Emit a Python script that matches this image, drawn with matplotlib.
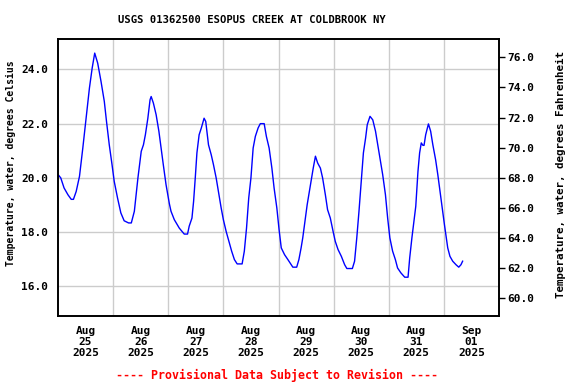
import matplotlib
matplotlib.use("Agg")
import matplotlib.pyplot as plt
import numpy as np

# days since 2025-08-25 00:00 and water temperature (deg C)
days = [0.01, 0.05, 0.11, 0.18, 0.24, 0.28, 0.33, 0.39, 0.45, 0.51, 0.57, 0.62, 0.666,
        0.72, 0.78, 0.84, 0.88, 0.93, 0.98, 1.02, 1.08, 1.14, 1.20, 1.28, 1.33, 1.385,
        1.45, 1.51, 1.55, 1.585, 1.63, 1.67, 1.69, 1.73, 1.78, 1.83, 1.87, 1.91, 1.96,
        2.02, 2.05, 2.11, 2.20, 2.29, 2.35, 2.38, 2.43, 2.46, 2.49, 2.52, 2.56, 2.60,
        2.65, 2.68, 2.73, 2.78, 2.82, 2.87, 2.92, 2.96, 3.00, 3.05, 3.10, 3.15, 3.20,
        3.25, 3.34, 3.38, 3.42, 3.46, 3.50, 3.54, 3.58, 3.63, 3.67, 3.74, 3.78, 3.83,
        3.88, 3.92, 3.97, 4.01, 4.05, 4.11, 4.17, 4.23, 4.26, 4.33, 4.37, 4.41, 4.44,
        4.48, 4.52, 4.56, 4.60, 4.63, 4.67, 4.71, 4.76, 4.80, 4.85, 4.89, 4.94, 4.99,
        5.03, 5.08, 5.14, 5.20, 5.24, 5.34, 5.38, 5.42, 5.46, 5.50, 5.54, 5.58, 5.61,
        5.66, 5.71, 5.76, 5.80, 5.84, 5.89, 5.94, 5.98, 6.02, 6.07, 6.12, 6.16, 6.22,
        6.29, 6.35, 6.38, 6.42, 6.46, 6.49, 6.51, 6.53, 6.56, 6.59, 6.62, 6.64, 6.67,
        6.70, 6.72, 6.76, 6.80, 6.85, 6.89, 6.93, 6.97, 7.01, 7.04, 7.07, 7.11, 7.16,
        7.22, 7.27, 7.31, 7.34]
temp_c = [20.10, 20.0, 19.63, 19.38, 19.21, 19.21, 19.5, 20.06, 21.1, 22.2, 23.31, 24.05, 24.6,
          24.23, 23.56, 22.82, 22.08, 21.22, 20.49, 19.87, 19.26, 18.71, 18.42, 18.34, 18.34, 18.77,
          20.0, 20.98, 21.22, 21.59, 22.2, 22.88, 23.0, 22.76, 22.33, 21.72, 21.1, 20.49, 19.75,
          19.05, 18.77, 18.46, 18.15, 17.93, 17.93, 18.22, 18.52, 19.14, 20.0, 20.92, 21.59, 21.84,
          22.2, 22.08, 21.22, 20.85, 20.49, 19.99, 19.38, 18.89, 18.46, 18.03, 17.66, 17.3, 16.99,
          16.83, 16.83, 17.3, 18.15, 19.26, 20.0, 21.1, 21.53, 21.84, 22.0, 22.0, 21.53, 21.1,
          20.36, 19.63, 18.89, 18.1, 17.42, 17.17, 16.99, 16.8, 16.71, 16.71, 16.99, 17.42, 17.79,
          18.4, 19.01, 19.51, 20.0, 20.36, 20.8, 20.55, 20.36, 20.0, 19.38, 18.83, 18.52, 18.03,
          17.66, 17.36, 17.11, 16.8, 16.66, 16.66, 16.93, 17.79, 18.77, 19.87, 20.92, 21.47, 21.96,
          22.27, 22.14, 21.72, 21.22, 20.73, 20.12, 19.38, 18.52, 17.79, 17.3, 16.99, 16.68, 16.5,
          16.34, 16.34, 17.05, 17.79, 18.46, 18.95, 19.57, 20.24, 20.92, 21.29, 21.2, 21.2, 21.59,
          21.84, 21.99, 21.72, 21.22, 20.67, 20.12, 19.5, 18.89, 18.28, 17.85, 17.42, 17.11, 16.93,
          16.8, 16.71, 16.8, 16.93]

day_labels = ["Aug\n25\n2025", "Aug\n26\n2025", "Aug\n27\n2025", "Aug\n28\n2025",
              "Aug\n29\n2025", "Aug\n30\n2025", "Aug\n31\n2025", "Sep\n01\n2025"]
c_ticks = [16, 18, 20, 22, 24]
f_ticks = [60, 62, 64, 66, 68, 70, 72, 74, 76]

plt.rcParams['font.family'] = ['DejaVu Sans Mono']
plt.rcParams['font.weight'] = 'bold'

fig = plt.figure(figsize=(5.76, 3.84), dpi=100)
ax = fig.add_axes([58 / 576, 1 - 316 / 384, 441 / 576, 277 / 384])

ax.plot(days, temp_c, color='#0000ff', linewidth=1.0)

ax.set_xlim(0, 8)
ylo, yhi = 14.91, 25.12
ax.set_ylim(ylo, yhi)

ax.set_xticks(range(1, 8))
ax.set_xticklabels([])
ax.set_xticks(np.arange(0.5, 8, 1), minor=True)
ax.set_xticklabels(day_labels, minor=True, fontsize=8, fontweight='bold', linespacing=1.15)
ax.tick_params(axis='x', which='both', length=0, pad=7)

ax.set_yticks(c_ticks)
ax.set_yticklabels(["%.1f" % v for v in c_ticks], fontsize=8, fontweight='bold')
ax.tick_params(axis='y', length=0, pad=7)

ax.grid(True, which='major', color='#cccccc', linewidth=1)
for s in ax.spines.values():
    s.set_linewidth(1.2)

ax2 = ax.twinx()
ax2.set_ylim(ylo * 9 / 5 + 32, yhi * 9 / 5 + 32)
ax2.set_yticks(f_ticks)
ax2.set_yticklabels(["%.1f" % v for v in f_ticks], fontsize=8, fontweight='bold')
ax2.tick_params(axis='y', length=4, width=1, pad=2)
for s in ax2.spines.values():
    s.set_linewidth(1.2)

fig.text(251.5 / 576, 1 - 20 / 384, "USGS 01362500 ESOPUS CREEK AT COLDBROOK NY",
         ha='center', va='center', fontsize=7.6, fontweight='bold')
fig.text(11 / 576, 1 - 163 / 384, "Temperature, water, degrees Celsius",
         rotation=90, ha='center', va='center', fontsize=7, fontweight='bold')
fig.text(561 / 576, 1 - 174 / 384, "Temperature, water, degrees Fahrenheit",
         rotation=90, ha='center', va='center', fontsize=7.8, fontweight='bold')
fig.text(277.5 / 576, 1 - 375 / 384, "---- Provisional Data Subject to Revision ----",
         ha='center', va='center', fontsize=8.4, fontweight='bold', color='#ff0000')

fig.savefig("out.png", dpi=100)
